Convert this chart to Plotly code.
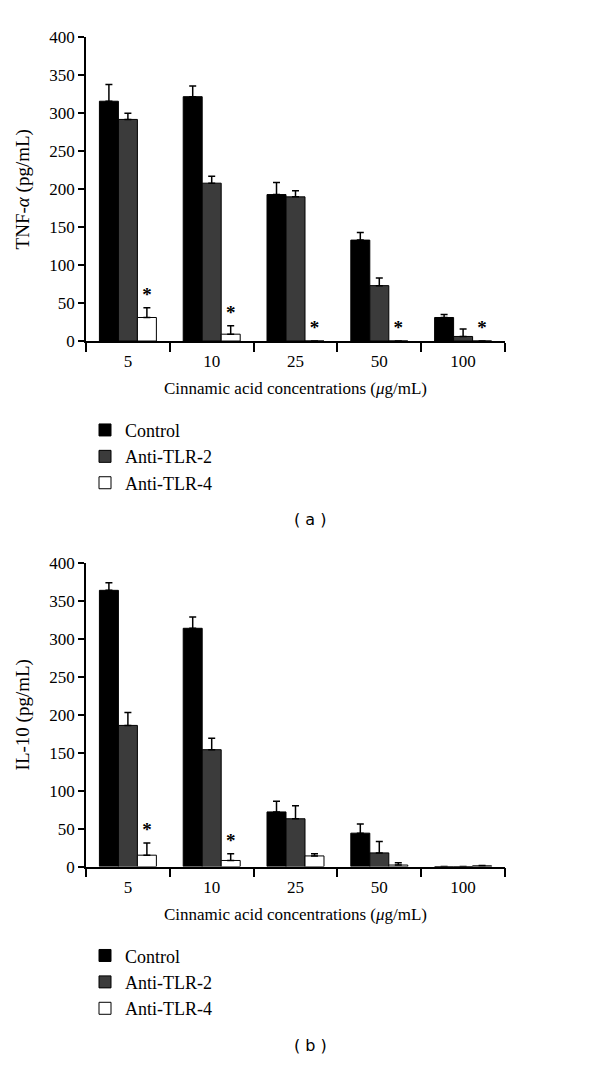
import plotly.graph_objects as go

categories = ["5", "10", "25", "50", "100"]
series_names = ["Control", "Anti-TLR-2", "Anti-TLR-4"]
series_colors = ["#000000", "#3b3b3b", "#ffffff"]

# Panel (a) TNF-alpha
tnf_control = [316, 322, 193, 133, 31]
tnf_control_err = [22, 14, 16, 10, 4]
tnf_tlr2 = [292, 208, 190, 73, 6]
tnf_tlr2_err = [8, 9, 8, 10, 10]
tnf_tlr4 = [31, 9, 0, 0, 0]
tnf_tlr4_err = [13, 11, 0, 0, 0]
tnf_star = [True, True, True, True, True]

# Panel (b) IL-10
il_control = [364, 314, 72, 44, 0]
il_control_err = [10, 15, 14, 12, 0]
il_tlr2 = [186, 154, 63, 18, 0]
il_tlr2_err = [17, 15, 17, 15, 0]
il_tlr4 = [15, 8, 14, 2, 1]
il_tlr4_err = [16, 9, 3, 3, 0.5]
il_star = [True, True, False, False, False]

yticks = [0, 50, 100, 150, 200, 250, 300, 350, 400]

SERIF = "Liberation Serif, Times New Roman, serif"
FS = 17

fig = go.Figure()

panels = [
    ("x", "y", "legend", [tnf_control, tnf_tlr2, tnf_tlr4],
     [tnf_control_err, tnf_tlr2_err, tnf_tlr4_err], tnf_star),
    ("x2", "y2", "legend2", [il_control, il_tlr2, il_tlr4],
     [il_control_err, il_tlr2_err, il_tlr4_err], il_star),
]

for xa, ya, leg, vals, errs, stars in panels:
    for i, name in enumerate(series_names):
        fig.add_trace(go.Bar(
            x=categories, y=vals[i], name=name,
            xaxis=xa, yaxis=ya, legend=leg,
            offsetgroup=f"g{i}",
            marker=dict(color=series_colors[i], line=dict(color="#000000", width=1)),
            error_y=dict(type="data", array=errs[i], arrayminus=[0] * len(errs[i]),
                         symmetric=False, color="#000000", thickness=1.5, width=3.5),
        ))
    # asterisks above Anti-TLR-4 bars (transparent bars carrying the text)
    tops = [v + e for v, e in zip(vals[2], errs[2])]
    fig.add_trace(go.Bar(
        x=categories, y=tops, xaxis=xa, yaxis=ya, showlegend=False,
        offsetgroup="g2",
        marker=dict(color="rgba(0,0,0,0)", line=dict(width=0)),
        text=["<b>*</b>" if s else "" for s in stars],
        textposition="outside", cliponaxis=False,
        textfont=dict(family=SERIF, size=19, color="#000000"),
        hoverinfo="skip",
    ))

H = 1074
W = 600
xdom = [86 / W, 505 / W]
ydom_a = [1 - 338 / H, 1 - 29 / H]
ydom_b = [1 - 873 / H, 1 - 564 / H]

xax = dict(
    type="category", tickson="boundaries", ticks="outside", ticklen=9,
    tickcolor="#000", tickwidth=1.5, showline=True, linecolor="#000", linewidth=1.5,
    showgrid=False, zeroline=False, domain=xdom,
    tickfont=dict(family=SERIF, size=FS, color="#000"), ticklabelstandoff=4,
    title=dict(text="Cinnamic acid concentrations (<i>μ</i>g/mL)",
               font=dict(family=SERIF, size=FS, color="#000"), standoff=12),
)
yax = dict(
    range=[0, 400], tickvals=yticks, ticks="outside", ticklen=6,
    tickcolor="#000", tickwidth=1.5, showline=True, linecolor="#000", linewidth=1.5,
    showgrid=False, zeroline=False,
    tickfont=dict(family=SERIF, size=FS, color="#000"),
)

leg = dict(
    x=85 / W, xanchor="left", yanchor="top",
    font=dict(family=SERIF, size=18, color="#000"),
    bgcolor="rgba(0,0,0,0)", borderwidth=0, tracegroupgap=0,
)

fig.update_layout(
    width=W, height=H,
    margin=dict(l=0, r=0, t=0, b=0),
    paper_bgcolor="#ffffff", plot_bgcolor="#ffffff",
    barmode="group", bargap=0.32, bargroupgap=0,
    showlegend=True,
    xaxis=dict(**xax, anchor="y"),
    yaxis=dict(**yax, domain=ydom_a, anchor="x",
               title=dict(text="TNF-<i>α</i> (pg/mL)", font=dict(family=SERIF, size=19, color="#000"))),
    xaxis2=dict(**xax, anchor="y2"),
    yaxis2=dict(**yax, domain=ydom_b, anchor="x2",
                title=dict(text="IL-10 (pg/mL)", font=dict(family=SERIF, size=19, color="#000"))),
    legend=dict(**leg, y=1 - 410 / H),
    legend2=dict(**leg, y=1 - 945 / H),
    annotations=[
        dict(text="( a )", x=310 / W, y=1 - 520 / H, xref="paper", yref="paper",
             showarrow=False, xanchor="center", yanchor="middle",
             font=dict(family="DejaVu Sans, Verdana, sans-serif", size=16, color="#000")),
        dict(text="( b )", x=310 / W, y=1 - 1055 / H, xref="paper", yref="paper",
             showarrow=False, xanchor="center", yanchor="middle",
             font=dict(family="DejaVu Sans, Verdana, sans-serif", size=16, color="#000")),
    ],
)

fig.write_html("out.html", config={"displayModeBar": False},
               post_script="document.body.style.margin='0';")
